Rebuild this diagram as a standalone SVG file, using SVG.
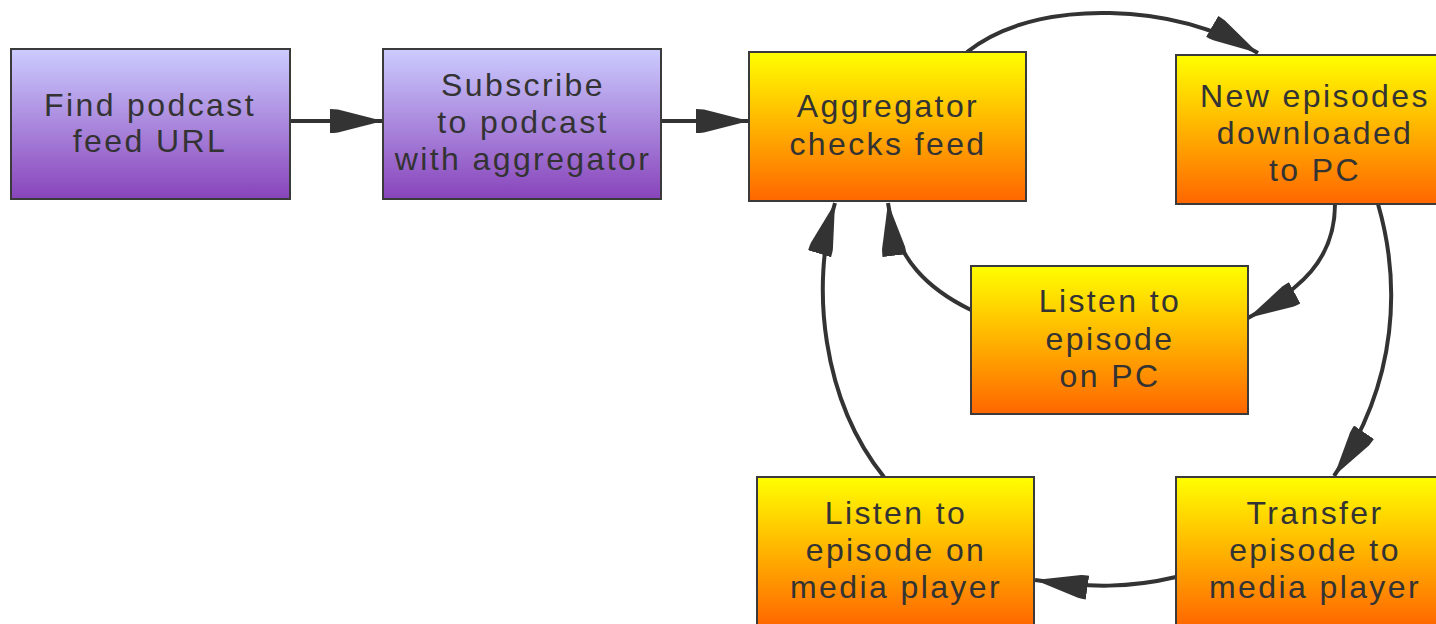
<svg xmlns="http://www.w3.org/2000/svg" width="1436" height="624" viewBox="0 0 1436 624">
<style>
.box{stroke:#3a3a3a;stroke-width:2}
.purple{fill:url(#gPurple)}
.orange{fill:url(#gOrange)}
text{font-family:"Liberation Sans",Arial,sans-serif;font-size:32px;fill:#333;text-anchor:middle;letter-spacing:2.4px}
.edge{fill:none;stroke:#333;stroke-width:4;marker-end:url(#arr)}
</style>
<defs>
<linearGradient id="gPurple" x1="0" y1="0" x2="0" y2="1">
<stop offset="0" stop-color="#ccccff"/>
<stop offset="1" stop-color="#8844bb"/>
</linearGradient>
<linearGradient id="gOrange" x1="0" y1="0" x2="0" y2="1">
<stop offset="0" stop-color="#ffff00"/>
<stop offset="1" stop-color="#ff6600"/>
</linearGradient>
<marker id="arr" markerUnits="userSpaceOnUse" markerWidth="56" markerHeight="30" viewBox="0 -15 56 30" refX="53" refY="0" orient="auto">
<path d="M0,-12 Q4,-12 8,-11.5 L53,0 L8,11.5 Q4,12 0,12 z" fill="#333"/>
</marker>
</defs>
<rect width="1436" height="624" fill="#fff"/>
<g id="connectors">
<path class="edge" d="M290,121 L383,121"/>
<path class="edge" d="M661,121 L749,121"/>
<path class="edge" d="M967,52 C1010,18 1070,12 1110,13 C1160,14 1210,25 1258,53"/>
<path class="edge" d="M1335,204 C1335,260 1300,290 1248,318"/>
<path class="edge" d="M971,310 C930,290 895,260 888,203"/>
<path class="edge" d="M1378,204 C1400,280 1400,380 1334,476"/>
<path class="edge" d="M1176,577 C1130,588 1090,588 1035,580"/>
<path class="edge" d="M884,477 C822,400 810,285 835,203"/>
</g>
<g id="n1"><rect class="box purple" x="11" y="49" width="279" height="150"/>
<text x="150" y="116">Find podcast</text><text x="150" y="152">feed URL</text></g>
<g id="n2"><rect class="box purple" x="383" y="49" width="278" height="150"/>
<text x="523" y="96">Subscribe</text><text x="523" y="133">to podcast</text><text x="523" y="170">with aggregator</text></g>
<g id="n3"><rect class="box orange" x="749" y="52" width="277" height="149"/>
<text x="888" y="117">Aggregator</text><text x="888" y="155">checks feed</text></g>
<g id="n4"><rect class="box orange" x="1176" y="55" width="277" height="149"/>
<text x="1315" y="107">New episodes</text><text x="1315" y="144">downloaded</text><text x="1315" y="181">to PC</text></g>
<g id="n5"><rect class="box orange" x="971" y="266" width="277" height="148"/>
<text x="1110" y="312">Listen to</text><text x="1110" y="350">episode</text><text x="1110" y="387">on PC</text></g>
<g id="n6"><rect class="box orange" x="757" y="477" width="277" height="150"/>
<text x="896" y="524">Listen to</text><text x="896" y="561">episode on</text><text x="896" y="598">media player</text></g>
<g id="n7"><rect class="box orange" x="1176" y="477" width="277" height="150"/>
<text x="1315" y="524">Transfer</text><text x="1315" y="561">episode to</text><text x="1315" y="598">media player</text></g>
</svg>
